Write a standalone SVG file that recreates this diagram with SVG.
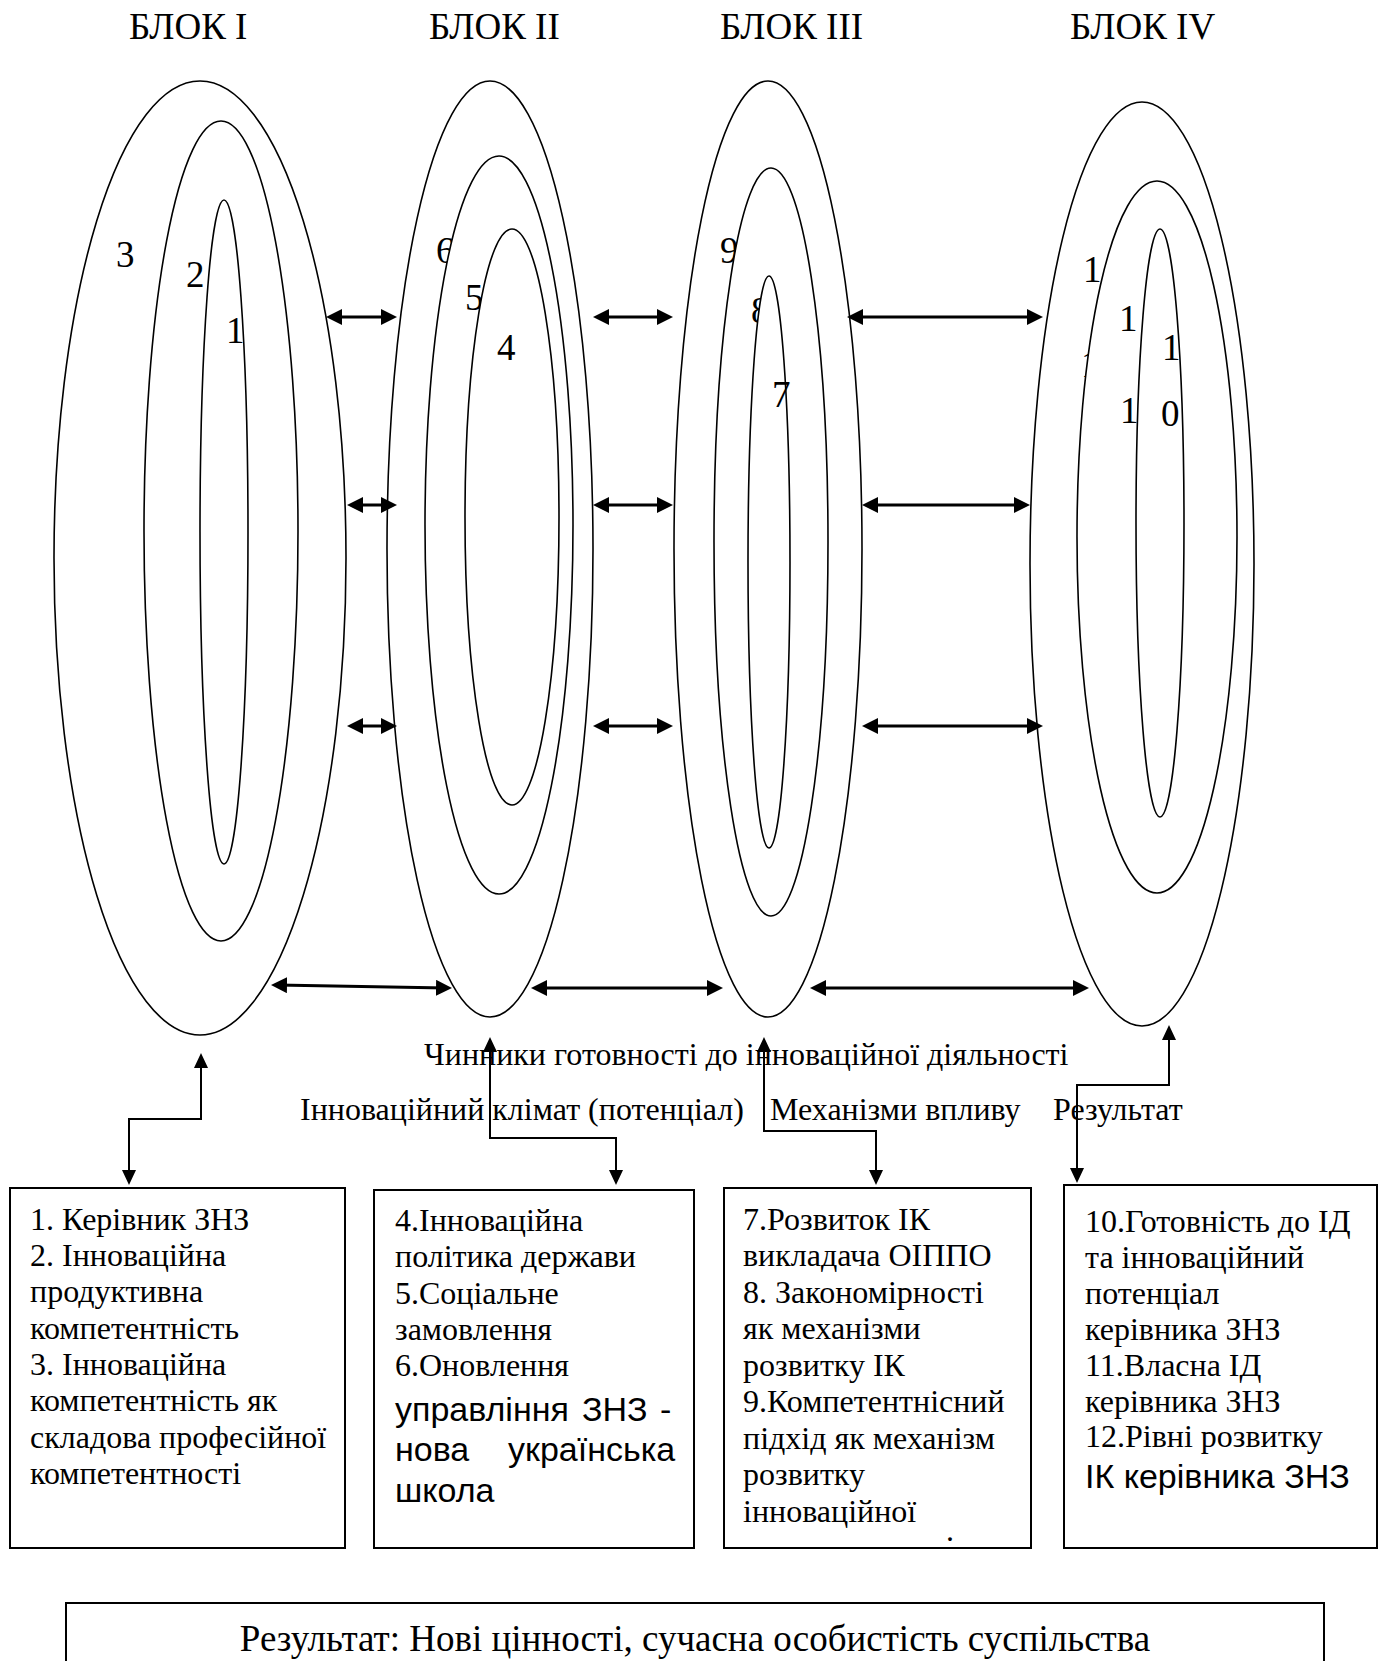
<svg xmlns="http://www.w3.org/2000/svg" width="1384" height="1661" viewBox="0 0 1384 1661">
<style>
.bg{fill:#fff}
.el{fill:#fff;stroke:#000;stroke-width:1.6}
.bx{fill:#fff;stroke:#000;stroke-width:2}
.t{font-family:"Liberation Serif","Times New Roman",serif;font-size:32px;fill:#000}
.h{font-family:"Liberation Serif","Times New Roman",serif;font-size:37px;fill:#000}
.s{font-family:"Liberation Sans",Arial,sans-serif;font-size:34px;fill:#000}
.dbl{fill:none;stroke:#000;stroke-width:3;marker-start:url(#ah);marker-end:url(#ah)}
.con{fill:none;stroke:#000;stroke-width:2;marker-start:url(#ah2);marker-end:url(#ah2)}
</style>
<defs>
<marker id="ah" viewBox="0 0 16 16" refX="10" refY="8" markerWidth="16" markerHeight="16" markerUnits="userSpaceOnUse" orient="auto-start-reverse"><path d="M0,0 L16,8 L0,16 z" fill="#000"/></marker>
<marker id="ah2" viewBox="0 0 15 14" refX="9" refY="7" markerWidth="15" markerHeight="14" markerUnits="userSpaceOnUse" orient="auto-start-reverse"><path d="M0,0 L15,7 L0,14 z" fill="#000"/></marker>
</defs>
<rect class="bg" x="0" y="0" width="1384" height="1661"/>

<g id="headings">
<text class="h" x="129" y="39">БЛОК I</text>
<text class="h" x="429" y="39">БЛОК II</text>
<text class="h" x="720" y="39">БЛОК III</text>
<text class="h" x="1070" y="39">БЛОК IV</text>
</g>

<g id="block1">
<ellipse class="el" cx="200" cy="558" rx="146" ry="477"/>
<text class="h" x="116" y="267">3</text>
<ellipse class="el" cx="221" cy="531" rx="77" ry="410"/>
<text class="h" x="186" y="287">2</text>
<ellipse class="el" cx="224" cy="532" rx="24" ry="332"/>
<text class="h" x="226" y="343">1</text>
</g>

<g id="block2">
<ellipse class="el" cx="490" cy="549" rx="103" ry="468"/>
<text class="h" x="436" y="263">6</text>
<ellipse class="el" cx="499" cy="525" rx="74" ry="369"/>
<text class="h" x="465" y="310">5</text>
<ellipse class="el" cx="512" cy="517" rx="47" ry="288"/>
<text class="h" x="497" y="360">4</text>
</g>

<g id="block3">
<ellipse class="el" cx="768" cy="549" rx="94" ry="468"/>
<text class="h" x="720" y="263">9</text>
<ellipse class="el" cx="771" cy="542" rx="57" ry="374"/>
<text class="h" x="751" y="323">8</text>
<ellipse class="el" cx="769" cy="562" rx="21" ry="286"/>
<text class="h" x="772" y="407">7</text>
</g>

<g id="block4">
<ellipse class="el" cx="1142" cy="564" rx="112" ry="462"/>
<text class="h" x="1083" y="282">1</text>
<text class="h" x="1081" y="377">1</text>
<ellipse class="el" cx="1157" cy="537" rx="80" ry="356"/>
<text class="h" x="1119" y="331">1</text>
<text class="h" x="1120" y="423">1</text>
<ellipse class="el" cx="1160" cy="523" rx="24" ry="294"/>
<text class="h" x="1162" y="360">1</text>
<text class="h" x="1161" y="426">0</text>
</g>

<g id="captions">
<text class="t" x="424" y="1065">Чинники готовності до інноваційної діяльності</text>
<text class="t" x="300" y="1120">Інноваційний клімат (потенціал)</text>
<text class="t" x="770" y="1120">Механізми впливу</text>
<text class="t" x="1053" y="1120">Результат</text>
</g>

<g id="connectors">
<path class="dbl" d="M332,317 H391"/>
<path class="dbl" d="M599,317 H667"/>
<path class="dbl" d="M853,317 H1037"/>
<path class="dbl" d="M353,505 H391"/>
<path class="dbl" d="M599,505 H667"/>
<path class="dbl" d="M868,505 H1024"/>
<path class="dbl" d="M353,726 H391"/>
<path class="dbl" d="M599,726 H667"/>
<path class="dbl" d="M868,726 H1037"/>
<path class="dbl" d="M277,985 L446,988"/>
<path class="dbl" d="M537,988 H717"/>
<path class="dbl" d="M816,988 H1083"/>
<path class="con" d="M201,1059 V1119 H129 V1179"/>
<path class="con" d="M490,1043 V1138 H616 V1179"/>
<path class="con" d="M764,1043 V1131 H876 V1179"/>
<path class="con" d="M1169,1031 V1085 H1077 V1177"/>
</g>

<g id="box1">
<rect class="bx" x="10" y="1188" width="335" height="360"/>
<text class="t" x="30" y="1230">1. Керівник ЗНЗ</text>
<text class="t" x="30" y="1266">2. Інноваційна</text>
<text class="t" x="30" y="1302">продуктивна</text>
<text class="t" x="30" y="1339">компетентність</text>
<text class="t" x="30" y="1375">3. Інноваційна</text>
<text class="t" x="30" y="1411">компетентність як</text>
<text class="t" x="30" y="1448">складова професійної</text>
<text class="t" x="30" y="1484">компетентності</text>
</g>

<g id="box2">
<rect class="bx" x="374" y="1190" width="320" height="358"/>
<text class="t" x="395" y="1231">4.Інноваційна</text>
<text class="t" x="395" y="1267">політика держави</text>
<text class="t" x="395" y="1304">5.Соціальне</text>
<text class="t" x="395" y="1340">замовлення</text>
<text class="t" x="395" y="1376">6.Оновлення</text>
<text class="s" y="1421"><tspan x="395">управління</tspan><tspan x="582">ЗНЗ</tspan><tspan x="660">-</tspan></text>
<text class="s" y="1461"><tspan x="395">нова</tspan><tspan x="508">українська</tspan></text>
<text class="s" x="395" y="1502">школа</text>
</g>

<g id="box3">
<rect class="bx" x="724" y="1188" width="307" height="360"/>
<text class="t" x="743" y="1230">7.Розвиток ІК</text>
<text class="t" x="743" y="1266">викладача ОІППО</text>
<text class="t" x="743" y="1303">8. Закономірності</text>
<text class="t" x="743" y="1339">як механізми</text>
<text class="t" x="743" y="1376">розвитку ІК</text>
<text class="t" x="743" y="1412">9.Компетентнісний</text>
<text class="t" x="743" y="1449">підхід як механізм</text>
<text class="t" x="743" y="1485">розвитку</text>
<text class="t" x="743" y="1522">інноваційної</text>
<text class="t" x="946" y="1541">.</text>
</g>

<g id="box4">
<rect class="bx" x="1064" y="1185" width="313" height="363"/>
<text class="t" x="1085" y="1232">10.Готовність до ІД</text>
<text class="t" x="1085" y="1268">та інноваційний</text>
<text class="t" x="1085" y="1304">потенціал</text>
<text class="t" x="1085" y="1340">керівника ЗНЗ</text>
<text class="t" x="1085" y="1376">11.Власна ІД</text>
<text class="t" x="1085" y="1412">керівника ЗНЗ</text>
<text class="t" x="1085" y="1447">12.Рівні розвитку</text>
<text class="s" x="1085" y="1488">ІК керівника ЗНЗ</text>
</g>

<g id="result">
<rect class="bx" x="66" y="1603" width="1258" height="100"/>
<text class="h" x="695" y="1651" text-anchor="middle">Результат: Нові цінності, сучасна особистість суспільства</text>
</g>
</svg>
